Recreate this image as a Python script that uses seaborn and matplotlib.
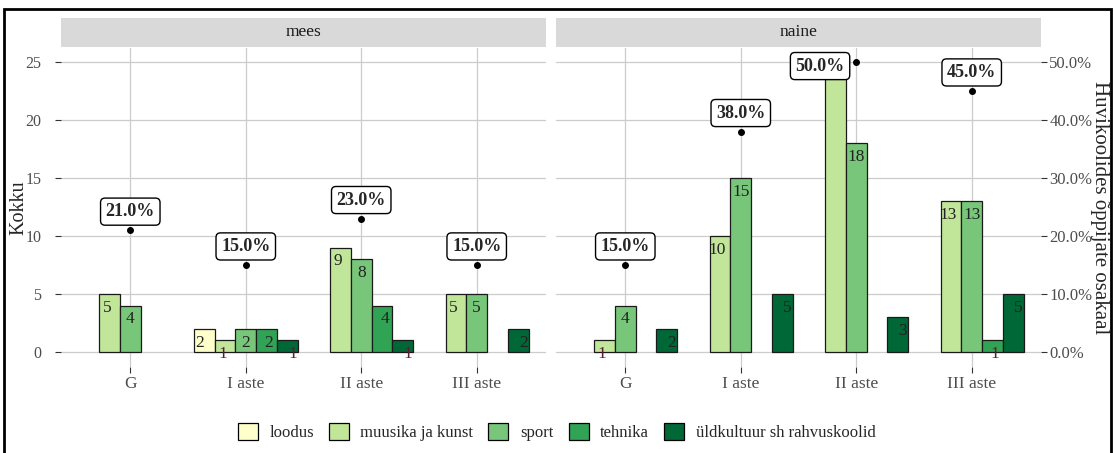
import numpy as np
import pandas as pd
import matplotlib.pyplot as plt
import seaborn as sns
from matplotlib.patches import Patch, Rectangle
from matplotlib.ticker import PercentFormatter

groups = ['G', 'I aste', 'II aste', 'III aste']
sexes = ['mees', 'naine']
categories = ['loodus', 'muusika ja kunst', 'sport', 'tehnika', 'üldkultuur sh rahvuskoolid']
colors = ['#FFFFCC', '#C2E699', '#78C679', '#31A354', '#006837']

# counts by category, one value per school level (None = no bar)
mees_loodus = [None, 2, None, None]
mees_muusika = [5, 1, 9, 5]
mees_sport = [4, 2, 8, 5]
mees_tehnika = [None, 2, 4, None]
mees_yld = [None, 1, 1, 2]

naine_loodus = [None, None, None, None]
naine_muusika = [1, 10, 25, 13]
naine_sport = [4, 15, 18, 13]
naine_tehnika = [None, None, None, 1]
naine_yld = [2, 5, 3, 5]

# share of hobby-school pupils, %
mees_pct = [21, 15, 23, 15]
naine_pct = [15, 38, 50, 45]

counts = {
    'mees': [mees_loodus, mees_muusika, mees_sport, mees_tehnika, mees_yld],
    'naine': [naine_loodus, naine_muusika, naine_sport, naine_tehnika, naine_yld],
}
pcts = {'mees': mees_pct, 'naine': naine_pct}

rows = []
for sex in sexes:
    for cat, vals in zip(categories, counts[sex]):
        for g, v in zip(groups, vals):
            if v is not None:
                rows.append({'sex': sex, 'group': g, 'category': cat, 'n': v})
df = pd.DataFrame(rows)

sns.set_style('white')
plt.rcParams['font.family'] = ['Liberation Serif', 'DejaVu Serif']

W, H = 1114, 453
fig = plt.figure(figsize=(W / 100, H / 100), dpi=100)


def px_axes(x0, y0, x1, y1):
    return fig.add_axes([x0 / W, 1 - y1 / H, (x1 - x0) / W, (y1 - y0) / H])


panel_x = {'mees': (61, 546), 'naine': (556, 1041)}
grid_col = '#CCCCCC'
tick_col = '#4D4D4D'

for sex in sexes:
    x0, x1 = panel_x[sex]
    ax = px_axes(x0, 47.5, x1, 366.5)
    sub = df[df.sex == sex]
    sns.barplot(data=sub, x='group', y='n', hue='category', order=groups,
                hue_order=categories, palette=colors, width=0.9, saturation=1,
                edgecolor='#1a1a1a', linewidth=0.9, errorbar=None,
                legend=False, ax=ax)
    ax.set_xlim(-0.6, len(groups) - 0.4)
    ax.set_ylim(-1.25, 26.25)
    ax.set_yticks([0, 5, 10, 15, 20, 25])
    ax.grid(True, color=grid_col, lw=0.9)
    ax.set_axisbelow(True)
    for s in ax.spines.values():
        s.set_visible(False)
    ax.set_xlabel('')
    ax.set_ylabel('')
    ax.tick_params(axis='x', colors='#333333', labelcolor=tick_col,
                   labelsize=12.5, length=4, width=0.8, pad=3, bottom=True)

    # value labels inside the bars
    for cont in ax.containers:
        for bar in cont:
            h = bar.get_height()
            if np.isnan(h) or h == 0:
                continue
            xc = bar.get_x() + bar.get_width() / 2
            slot = round((xc - round(xc)) / 0.18) + 2
            ax.annotate(f'{int(h)}', (xc, h), xytext=((slot - 2) * 1.8, -10),
                        textcoords='offset points', ha='center', va='center',
                        fontsize=12.5, color='#5c1a33' if h == 1 else '#222222',
                        zorder=6)

    # share points and labels
    pos = np.arange(len(groups))
    yv = [p / 2 for p in pcts[sex]]
    ax.scatter(pos, yv, color='black', s=16, zorder=7)
    for k, p in enumerate(pcts[sex]):
        box = dict(boxstyle='round,pad=0.28,rounding_size=0.25', fc='white',
                   ec='black', lw=1)
        if p / 2 + 2.6 > 26.25:
            ax.text(k - 0.1, p / 2 - 0.35, f'{p:.1f}%', ha='right', va='center',
                    fontsize=13, fontweight='bold', bbox=box, zorder=8)
        else:
            ax.text(k, p / 2 + 1.6, f'{p:.1f}%', ha='center', va='center',
                    fontsize=13, fontweight='bold', bbox=box, zorder=8)

    if sex == 'mees':
        ax.tick_params(axis='y', colors='#333333', labelcolor=tick_col,
                       labelsize=11.5, length=4, width=0.8, pad=10, left=True)
    else:
        ax.tick_params(axis='y', left=False, labelleft=False)
        sec = ax.secondary_yaxis('right', functions=(lambda y: y * 2, lambda q: q / 2))
        sec.set_yticks([0, 10, 20, 30, 40, 50])
        sec.yaxis.set_major_formatter(PercentFormatter(decimals=1))
        sec.spines['right'].set_visible(False)
        sec.tick_params(colors='#333333', labelcolor=tick_col, labelsize=12,
                        length=4, width=0.8, pad=2)

    # facet strip
    sax = px_axes(x0, 18, x1, 47)
    sax.set_facecolor('#D9D9D9')
    sax.set_xticks([])
    sax.set_yticks([])
    for s in sax.spines.values():
        s.set_visible(False)
    sax.text(0.5, 0.5, sex, ha='center', va='center', fontsize=12.5,
             color='#1A1A1A', transform=sax.transAxes)

# axis titles
fig.text(19 / W, 1 - 208 / H, 'Kokku', rotation=90, ha='center', va='center',
         fontsize=14.5)
fig.text(1099 / W, 1 - 208 / H, 'Huvikoolides õppijate osakaal', rotation=270,
         ha='center', va='center', fontsize=15)

handles = [Patch(facecolor=c, edgecolor='black', linewidth=0.9, label=l)
           for c, l in zip(colors, categories)]
fig.legend(handles=handles, loc='center', bbox_to_anchor=(556.5 / W, 1 - 432 / H),
           ncol=5, frameon=False, fontsize=12, handlelength=1.2, handleheight=1.2,
           handletextpad=0.7, columnspacing=0.9)

fig.patches.append(Rectangle((4 / W, -0.02), (1111 - 4) / W, 1.02 - 9 / H,
                             transform=fig.transFigure, fill=False,
                             edgecolor='black', linewidth=2))

fig.savefig('out.png', dpi=100)
